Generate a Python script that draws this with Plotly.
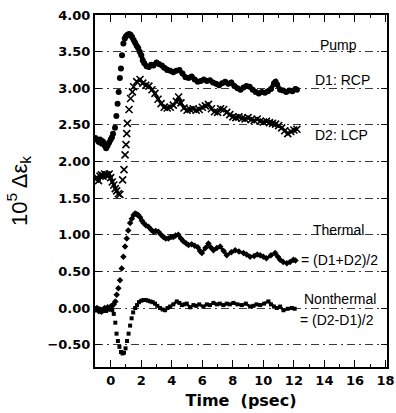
import numpy as np
import plotly.graph_objects as go

# ---------------- data ----------------
d1_t = [-1.0, -0.9, -0.8, -0.7, -0.6, -0.5, -0.4, -0.3, -0.2, -0.1, 0.0, 0.08,
        0.15, 0.28, 0.37, 0.45, 0.52, 0.6, 0.67, 0.74, 0.83, 0.92, 1.0, 1.1, 1.2,
        1.3, 1.4, 1.5, 1.6, 1.7, 1.8, 1.9, 2.0, 2.1, 2.2, 2.35, 2.5, 2.65, 2.8,
        3.0, 3.15, 3.35, 3.5, 3.7, 3.9, 4.1, 4.3, 4.5, 4.7, 4.9, 5.1, 5.3, 5.5,
        5.7, 5.9, 6.1, 6.3, 6.5, 6.7, 6.9, 7.1, 7.3, 7.5, 7.7, 7.9, 8.1, 8.3,
        8.5, 8.7, 8.9, 9.1, 9.3, 9.5, 9.7, 9.9, 10.1, 10.3, 10.5, 10.7, 10.8,
        10.9, 11.1, 11.3, 11.5, 11.7, 11.9, 12.1, 12.2]
d1_v = [2.32, 2.30, 2.27, 2.30, 2.25, 2.27, 2.22, 2.18, 2.22, 2.26, 2.30, 2.33,
        2.38, 2.46, 2.62, 2.79, 2.95, 3.14, 3.27, 3.45, 3.61, 3.68, 3.71, 3.73,
        3.74, 3.73, 3.70, 3.66, 3.62, 3.58, 3.55, 3.50, 3.45, 3.38, 3.34, 3.30,
        3.29, 3.32, 3.31, 3.35, 3.33, 3.31, 3.28, 3.25, 3.24, 3.22, 3.24, 3.25,
        3.20, 3.15, 3.14, 3.16, 3.12, 3.09, 3.10, 3.12, 3.10, 3.11, 3.08, 3.06,
        3.04, 3.07, 3.09, 3.06, 3.08, 3.03, 3.00, 2.98, 3.01, 3.03, 3.02, 2.98,
        2.95, 2.93, 2.95, 2.94, 2.96, 2.99, 3.07, 3.09, 3.05, 2.98, 2.97, 2.95,
        2.97, 2.96, 2.99, 2.98]

d2_t = [-1.0, -0.9, -0.8, -0.7, -0.6, -0.5, -0.4, -0.3, -0.2, -0.1, 0.0, 0.1,
        0.2, 0.3, 0.39, 0.5, 0.6, 0.78, 0.87, 0.94, 1.0, 1.05, 1.09, 1.2, 1.3,
        1.42, 1.5, 1.7, 1.92, 2.1, 2.3, 2.5, 2.7, 2.9, 3.1, 3.3, 3.5, 3.7, 3.9,
        4.1, 4.3, 4.45, 4.6, 4.8, 5.0, 5.2, 5.4, 5.6, 5.8, 6.0, 6.2, 6.4, 6.6,
        6.8, 7.0, 7.2, 7.4, 7.6, 7.8, 8.0, 8.2, 8.4, 8.6, 8.8, 9.0, 9.2, 9.4,
        9.6, 9.8, 10.0, 10.2, 10.4, 10.6, 10.8, 11.0, 11.2, 11.4, 11.6, 11.8,
        12.0, 12.2]
d2_v = [1.76, 1.78, 1.74, 1.80, 1.82, 1.80, 1.83, 1.82, 1.81, 1.83, 1.78, 1.72,
        1.68, 1.63, 1.60, 1.56, 1.55, 1.75, 1.89, 2.09, 2.23, 2.38, 2.52, 2.71,
        2.86, 2.95, 3.02, 3.09, 3.12, 3.07, 3.04, 3.03, 2.98, 2.93, 2.85, 2.79,
        2.74, 2.73, 2.74, 2.77, 2.82, 2.88, 2.80, 2.73, 2.70, 2.71, 2.72, 2.70,
        2.71, 2.74, 2.76, 2.78, 2.72, 2.68, 2.67, 2.72, 2.71, 2.67, 2.64, 2.61,
        2.60, 2.61, 2.59, 2.58, 2.60, 2.57, 2.56, 2.58, 2.55, 2.54, 2.55, 2.53,
        2.52, 2.51, 2.49, 2.46, 2.42, 2.38, 2.41, 2.43, 2.44]

th_t = [-1.0, -0.9, -0.8, -0.7, -0.6, -0.5, -0.4, -0.3, -0.2, -0.1, 0.0, 0.1,
        0.2, 0.3, 0.39, 0.5, 0.61, 0.72, 0.83, 0.94, 1.05, 1.15, 1.27, 1.38,
        1.5, 1.6, 1.7, 1.8, 1.92, 2.05, 2.15, 2.3, 2.47, 2.65, 2.8, 2.95, 3.12,
        3.3, 3.45, 3.6, 3.78, 3.95, 4.1, 4.25, 4.43, 4.6, 4.76, 4.95, 5.1, 5.3,
        5.5, 5.7, 5.85, 5.97, 6.2, 6.4, 6.55, 6.73, 6.95, 7.17, 7.4, 7.6, 7.9,
        8.15, 8.4, 8.7, 8.9, 9.13, 9.4, 9.6, 9.79, 10.0, 10.2, 10.5, 10.77,
        10.95, 11.1, 11.3, 11.54, 11.75, 11.97, 12.1]
th_v = [-0.02, 0.0, -0.04, -0.02, -0.05, -0.03, 0.0, -0.02, 0.01, -0.01, 0.02,
        0.03, 0.05, 0.09, 0.18, 0.27, 0.38, 0.54, 0.70, 0.84, 0.95, 1.06, 1.16,
        1.22, 1.27, 1.29, 1.28, 1.27, 1.24, 1.19, 1.16, 1.13, 1.11, 1.07, 1.04,
        1.05, 1.04, 1.00, 0.97, 0.95, 0.95, 0.97, 0.97, 0.99, 1.00, 0.95, 0.91,
        0.88, 0.86, 0.87, 0.85, 0.83, 0.78, 0.75, 0.82, 0.88, 0.83, 0.79, 0.82,
        0.84, 0.78, 0.72, 0.76, 0.79, 0.77, 0.75, 0.73, 0.70, 0.71, 0.73, 0.72,
        0.70, 0.68, 0.72, 0.75, 0.70, 0.66, 0.63, 0.61, 0.63, 0.66, 0.65]

nt_t = [-1.0, -0.9, -0.8, -0.7, -0.6, -0.5, -0.4, -0.3, -0.2, -0.1, 0.0, 0.1,
        0.2, 0.3, 0.38, 0.47, 0.57, 0.67, 0.77, 0.87, 0.97, 1.07, 1.17, 1.27,
        1.37, 1.47, 1.6, 1.72, 1.85, 2.0, 2.15, 2.3, 2.45, 2.6, 2.75, 2.9,
        3.05, 3.23, 3.4, 3.56, 3.72, 3.89, 4.1, 4.33, 4.5, 4.66, 4.82, 4.98,
        5.2, 5.42, 5.6, 5.8, 6.07, 6.3, 6.5, 6.73, 6.95, 7.15, 7.38, 7.6, 7.8,
        8.04, 8.3, 8.59, 8.85, 9.13, 9.35, 9.55, 9.79, 10.05, 10.33, 10.5, 10.7,
        10.88, 11.1, 11.32, 11.6, 11.87, 12.05]
nt_v = [0.0, -0.03, -0.01, -0.05, -0.02, -0.04, -0.01, -0.04, -0.02, 0.01,
        -0.01, -0.03, -0.08, -0.20, -0.35, -0.45, -0.53, -0.60, -0.62, -0.61,
        -0.55, -0.45, -0.35, -0.24, -0.14, -0.06, 0.0, 0.04, 0.08, 0.10, 0.11,
        0.11, 0.10, 0.09, 0.08, 0.06, 0.03, 0.0, -0.02, -0.03, 0.0, 0.02, 0.05,
        0.09, 0.07, 0.04, 0.05, 0.06, 0.01, 0.04, 0.03, 0.05, 0.02, 0.05, 0.04,
        0.07, 0.05, 0.06, 0.04, 0.06, 0.05, 0.07, 0.05, 0.04, 0.06, 0.02, 0.03,
        0.05, 0.04, 0.06, 0.09, 0.05, 0.02, 0.0, 0.02, -0.03, -0.01, 0.0, -0.01]

x_ticks = [0, 2, 4, 6, 8, 10, 12, 14, 16, 18]
y_ticks = [-0.5, 0.0, 0.5, 1.0, 1.5, 2.0, 2.5, 3.0, 3.5, 4.0]

label_text = ["Pump", "D1: RCP", "D2: LCP", "Thermal", "= (D1+D2)/2",
              "Nonthermal", "= (D2-D1)/2"]
label_x = [14.9, 15.2, 15.1, 14.9, 15.0, 15.0, 14.8]
label_y = [3.59, 3.11, 2.36, 1.06, 0.66, 0.12, -0.16]

# ---------------- style ----------------
# time window of the fast rise, where samples appear as separate dots
rise_window = {"d1": (0.1, 1.0), "d2": (0.55, 1.6), "th": (0.25, 1.45), "nt": (0.15, 1.55)}

fig = go.Figure()


def add_series(t, v, key, marker, band_width):
    t = np.asarray(t, dtype=float)
    v = np.asarray(v, dtype=float)
    lo, hi = rise_window[key]
    dense = (t <= lo) | (t >= hi)
    v_line = np.where(dense, v, np.nan)
    fig.add_trace(go.Scatter(x=t, y=v_line, mode="lines", connectgaps=False,
                             line=dict(color="black", width=band_width),
                             hoverinfo="skip", showlegend=False))
    fig.add_trace(go.Scatter(x=t, y=v, mode="markers", marker=marker,
                             showlegend=False))


add_series(d1_t, d1_v, "d1", dict(symbol="circle", size=6, color="black"), 4.5)
add_series(d2_t, d2_v, "d2",
           dict(symbol="x-thin", size=7, color="black",
                line=dict(width=1.6, color="black")), 3)
add_series(th_t, th_v, "th", dict(symbol="diamond", size=5, color="black"), 2.6)
add_series(nt_t, nt_v, "nt", dict(symbol="square", size=4, color="black"), 2.6)

for txt, lx, ly in zip(label_text, label_x, label_y):
    fig.add_annotation(x=lx, y=ly, text=txt, showarrow=False,
                       font=dict(family="Liberation Sans, Arial", size=14, color="black"),
                       xanchor="center", yanchor="middle")

tick_font = dict(family="DejaVu Sans", size=13, color="black", weight="bold")

fig.update_layout(
    width=396, height=413,
    margin=dict(l=95, r=9, t=15, b=46),
    paper_bgcolor="white", plot_bgcolor="white",
    xaxis=dict(
        range=[-1.03, 18.1], tickvals=x_ticks, ticks="inside", ticklen=7,
        tickwidth=1.2, tickcolor="black", automargin=False,
        minor=dict(dtick=1, tick0=0, ticks="inside", ticklen=3, tickcolor="black", showgrid=False),
        showgrid=False, zeroline=False, showline=True, linecolor="black",
        linewidth=2, mirror="ticks", tickfont=tick_font,
        title=dict(text="Time  (psec)", standoff=8,
                   font=dict(family="DejaVu Sans", size=16, color="black", weight="bold")),
    ),
    yaxis=dict(
        range=[-0.805, 4.0], tickvals=y_ticks, tickformat=".2f", ticks="inside",
        ticklen=6, tickwidth=1.2, tickcolor="black", automargin=False,
        showgrid=True, gridcolor="#3a3a3a", gridwidth=1, griddash="8px,4px,2px,4px",
        zeroline=False, showline=True, linecolor="black", linewidth=2,
        mirror="ticks", tickfont=tick_font,
        title=dict(text="10<sup>5</sup> Δε<sub>k</sub>", standoff=14,
                   font=dict(family="Liberation Sans, Arial", size=22, color="black")),
    ),
)

fig.write_html("out.html")
